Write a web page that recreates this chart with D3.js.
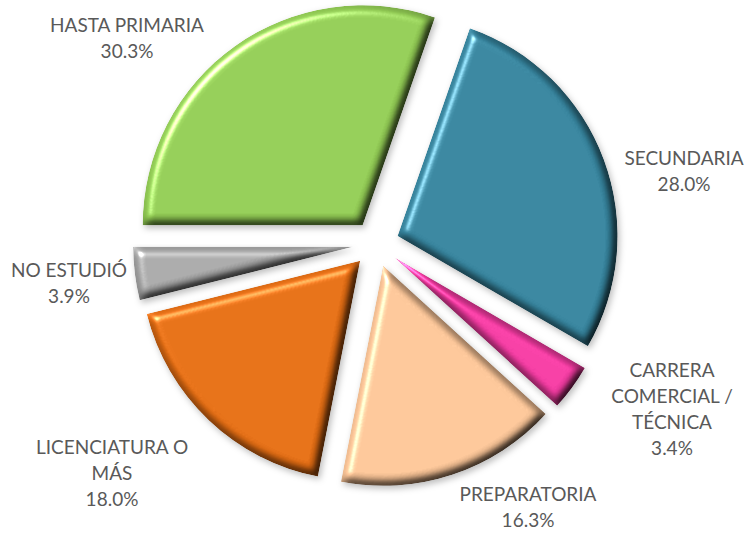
<!DOCTYPE html>
<html>
  <head>
    <meta charset="utf-8">
    <title>Escolaridad</title>
    <script src="https://cdnjs.cloudflare.com/ajax/libs/d3/7.8.5/d3.min.js"></script>
    <style>
      html, body {
        margin:0;
        padding:0;
        background:#fff;
      }
      #chart text {
        font-family: Lato, "Open Sans", sans-serif;
        fill:#595959;
      }
    </style>
  </head>
  <body>
    <div id="chart"></div>
    <script>
      // data
      var categories = ["HASTA PRIMARIA", "SECUNDARIA", "CARRERA COMERCIAL / TÉCNICA", "PREPARATORIA", "LICENCIATURA O MÁS", "NO ESTUDIÓ"];
      var values = [30.3, 28.0, 3.4, 16.3, 18.0, 3.9];
      var labelLines = [["HASTA PRIMARIA"], ["SECUNDARIA"], ["CARRERA", "COMERCIAL /", "TÉCNICA"], ["PREPARATORIA"], ["LICENCIATURA O", "MÁS"], ["NO ESTUDIÓ"]];
      var colors = ["#8fc852", "#34819a", "#f0399f", "#f6c194", "#e06b12", "#a5a5a5"];

      // layout: label anchor (centre x, first baseline y)
      var labelAt = [[127, 32], [684, 165], [672, 377], [528, 501], [112, 454], [69, 277]];

      var width = 744, height = 534;
      var cx = 376, cy = 244, radius = 220, explode = 23;
      var lineH = 26;

      var svg = d3.select("#chart").append("svg")
        .attr("width", width)
        .attr("height", height);

      // bevel + soft shadow, roughly like the office "circle" bevel
      var defs = svg.append("defs");
      var f = defs.append("filter").attr("id", "bevel")
        .attr("color-interpolation-filters", "sRGB")
        .attr("x", "-10%").attr("y", "-10%").attr("width", "125%").attr("height", "125%");
      f.append("feGaussianBlur").attr("in", "SourceAlpha").attr("stdDeviation", 5).attr("result", "blur");
      f.append("feDiffuseLighting").attr("in", "blur").attr("surfaceScale", 7)
        .attr("diffuseConstant", 1.12).attr("lighting-color", "#fff").attr("result", "diff")
        .append("feDistantLight").attr("azimuth", 225).attr("elevation", 63);
      f.append("feComposite").attr("in", "SourceGraphic").attr("in2", "diff")
        .attr("operator", "arithmetic").attr("k1", 1).attr("result", "shaded");
      f.append("feSpecularLighting").attr("in", "blur").attr("surfaceScale", 7)
        .attr("specularConstant", 0.8).attr("specularExponent", 30)
        .attr("lighting-color", "#fff").attr("result", "spec")
        .append("feDistantLight").attr("azimuth", 225).attr("elevation", 40);
      f.append("feComposite").attr("in", "spec").attr("in2", "SourceAlpha")
        .attr("operator", "in").attr("result", "specIn");
      f.append("feComposite").attr("in", "shaded").attr("in2", "specIn")
        .attr("operator", "arithmetic").attr("k2", 1).attr("k3", 0.8).attr("result", "lit");
      f.append("feComposite").attr("in", "lit").attr("in2", "SourceAlpha")
        .attr("operator", "in").attr("result", "litIn");
      f.append("feGaussianBlur").attr("in", "SourceAlpha").attr("stdDeviation", 3).attr("result", "sblur");
      f.append("feOffset").attr("in", "sblur").attr("dx", 2).attr("dy", 3).attr("result", "soff");
      f.append("feFlood").attr("flood-color", "#000").attr("flood-opacity", 0.25).attr("result", "sfl");
      f.append("feComposite").attr("in", "sfl").attr("in2", "soff").attr("operator", "in").attr("result", "shadow");
      var merge = f.append("feMerge");
      merge.append("feMergeNode").attr("in", "shadow");
      merge.append("feMergeNode").attr("in", "litIn");

      var pie = d3.pie()
        .sort(null)
        .startAngle(-Math.PI / 2)
        .endAngle(-Math.PI / 2 + 2 * Math.PI)
        .value(function(d) { return d; });

      var arc = d3.arc().innerRadius(0).outerRadius(radius);

      var arcs = pie(values);

      var g = svg.append("g").attr("transform", "translate(" + cx + "," + cy + ")");

      g.selectAll("path.slice")
        .data(arcs)
        .enter().append("path")
        .attr("class", "slice")
        .attr("d", arc)
        .attr("fill", function(d, i) { return colors[i]; })
        .attr("filter", "url(#bevel)")
        .attr("transform", function(d) {
          var a = (d.startAngle + d.endAngle) / 2;
          return "translate(" + (explode * Math.sin(a)) + "," + (-explode * Math.cos(a)) + ")";
        });

      var labels = svg.selectAll("g.label")
        .data(arcs)
        .enter().append("g")
        .attr("class", "label");

      labels.each(function(d, i) {
        var lines = labelLines[i].concat([values[i].toFixed(1) + "%"]);
        var t = d3.select(this).append("text")
          .attr("text-anchor", "middle")
          .style("font-size", "19px");
        lines.forEach(function(s, k) {
          t.append("tspan")
            .attr("x", labelAt[i][0])
            .attr("y", labelAt[i][1] + k * lineH)
            .text(s);
        });
      });
    </script>
  </body>
</html>
